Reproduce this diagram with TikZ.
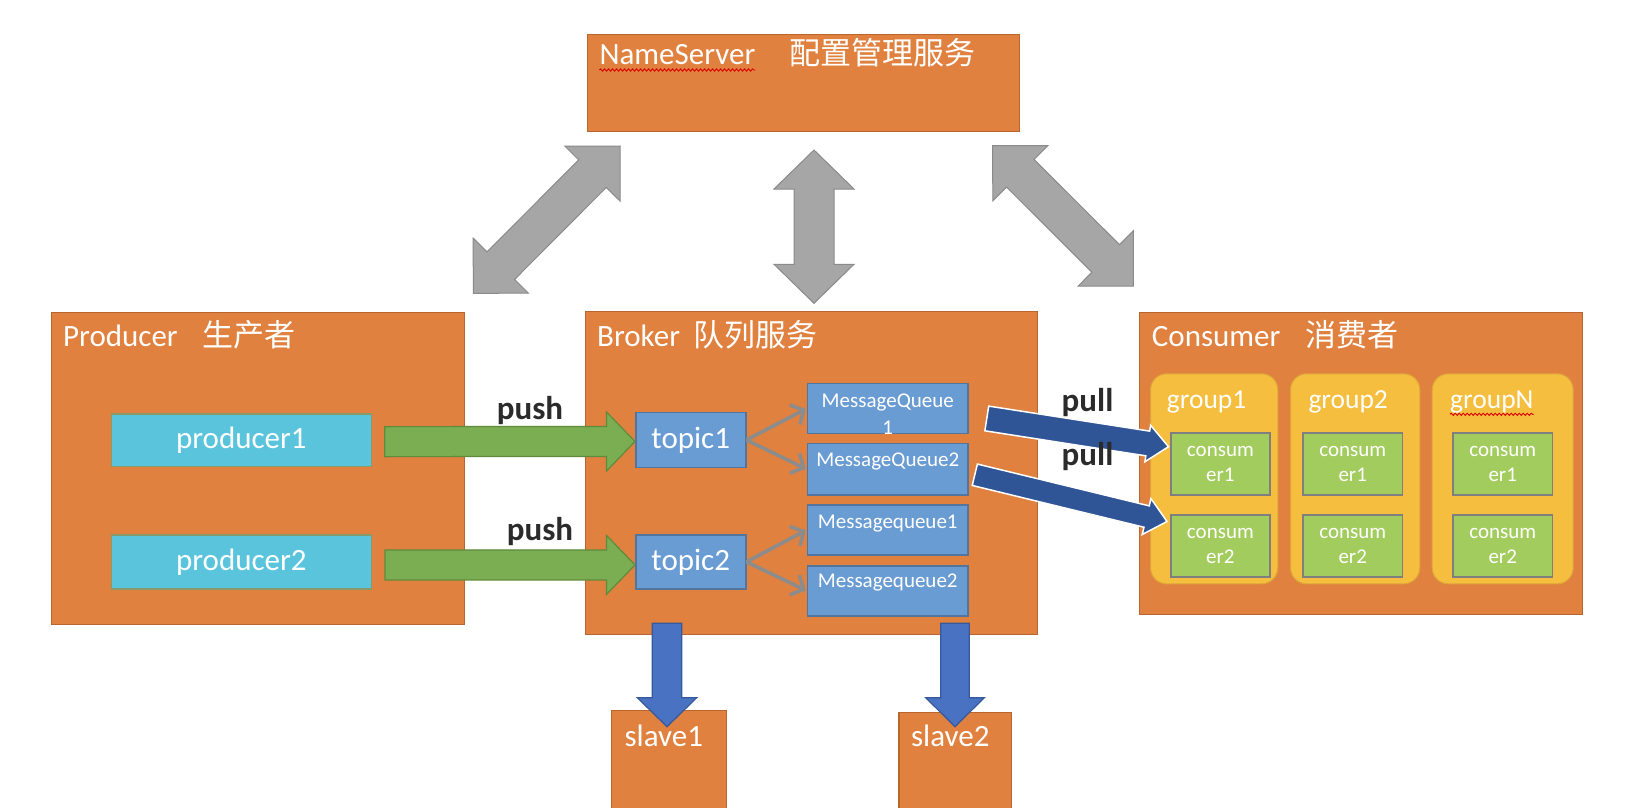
\documentclass[tikz,border=0pt]{standalone}
\usepackage{fontspec}
\setmainfont{Carlito}
\newfontfamily\cjk{Noto Sans CJK SC}
\usetikzlibrary{calc,arrows.meta,decorations.pathmorphing}
\definecolor{orangebox}{HTML}{E0813F}
\definecolor{orangeline}{HTML}{B8652E}
\definecolor{cyanbox}{HTML}{5BC4DD}
\definecolor{cyanline}{HTML}{869A6A}
\definecolor{bluebox}{HTML}{6A9CD4}
\definecolor{blueline}{HTML}{52759E}
\definecolor{yellowbox}{HTML}{F5BE3E}
\definecolor{yellowline}{HTML}{DDA53A}
\definecolor{greenbox}{HTML}{A3CC5E}
\definecolor{greenline}{HTML}{7F7F7F}
\definecolor{grayarrow}{HTML}{A6A6A6}
\definecolor{grayarrowline}{HTML}{8A8A8A}
\definecolor{greenarrow}{HTML}{7BAD52}
\definecolor{greenarrowline}{HTML}{5E8B3C}
\definecolor{pullblue}{HTML}{2F5597}
\definecolor{slaveblue}{HTML}{4A72C2}
\definecolor{slaveblueline}{HTML}{36599C}
\definecolor{linkgray}{HTML}{8C8C8C}
\definecolor{labeltext}{HTML}{2B2B2B}

% block arrow: style, tail, tip, shaft half width, head half width, head length
\newcommand{\blockarrow}[6]{%
  \coordinate (ba-h) at ($(#3)!#6!(#2)$);
  \path[#1] ($(#2)!#4!90:(#3)$) -- ($(ba-h)!#4!90:(#3)$) -- ($(ba-h)!#5!90:(#3)$) -- (#3)
    -- ($(ba-h)!#5!-90:(#3)$) -- ($(ba-h)!#4!-90:(#3)$) -- ($(#2)!#4!-90:(#3)$) -- cycle;
}
% double block arrow: style, end A, end B, shaft half width, head half width, head length
\newcommand{\dblarrow}[6]{%
  \coordinate (da-a) at ($(#2)!#6!(#3)$);
  \coordinate (da-b) at ($(#3)!#6!(#2)$);
  \path[#1] (#2) -- ($(da-a)!#5!90:(#3)$) -- ($(da-a)!#4!90:(#3)$) -- ($(da-b)!#4!-90:(#2)$)
    -- ($(da-b)!#5!-90:(#2)$) -- (#3) -- ($(da-b)!#5!90:(#2)$) -- ($(da-b)!#4!90:(#2)$)
    -- ($(da-a)!#4!-90:(#3)$) -- ($(da-a)!#5!-90:(#3)$) -- cycle;
}

\begin{document}
\begin{tikzpicture}[x=1pt,y=-1pt,
  bigbox/.style={draw=orangeline, fill=orangebox, line width=1.2pt, inner sep=0pt, anchor=north west},
  prodbox/.style={draw=cyanline, fill=cyanbox, line width=1.2pt, inner sep=0pt, anchor=north west,
    text=white, font=\fontsize{31}{37}\selectfont},
  topicbox/.style={draw=blueline, fill=bluebox, line width=1.5pt, inner sep=0pt, anchor=north west,
    text=white, font=\fontsize{31}{37}\selectfont},
  mqbox/.style={draw=blueline, fill=bluebox, line width=1.5pt, inner sep=0pt, anchor=north west,
    minimum width=160.6pt},
  mqtext/.style={text=white, font=\fontsize{21}{26}\selectfont, inner sep=0pt, anchor=base},
  groupbox/.style={draw=yellowline, fill=yellowbox, line width=1pt, rounded corners=16pt,
    inner sep=0pt, anchor=north west, minimum height=210pt},
  grouptext/.style={text=white, font=\fontsize{27.5}{33}\selectfont, inner sep=0pt, anchor=base west},
  consbox/.style={draw=greenline, fill=greenbox, line width=1.5pt, inner sep=0pt, anchor=north west,
    minimum width=99.3pt, minimum height=62pt, text=white, align=center,
    font=\fontsize{21}{25}\selectfont},
  titletext/.style={text=white, font=\fontsize{31}{37}\selectfont, inner sep=0pt, anchor=base west},
  cjktitle/.style={text=white, font=\fontsize{31}{37}\selectfont\cjk, inner sep=0pt, anchor=base west},
  slavetext/.style={text=white, font=\fontsize{31}{37}\selectfont, inner sep=0pt, anchor=base},
  boldlabel/.style={text=labeltext, font=\fontsize{33}{40}\selectfont\bfseries, inner sep=0pt, anchor=base},
  bigdouble/.style={fill=grayarrow, draw=grayarrowline, line width=1pt, line join=miter},
  pusharrow/.style={fill=greenarrow, draw=greenarrowline, line width=1.2pt},
  pullarrow/.style={fill=pullblue, draw=white, line width=1.5pt},
  slavearrow/.style={fill=slaveblue, draw=slaveblueline, line width=1.2pt},
  link/.style={draw=linkgray, line width=3.6pt, -{Straight Barb[length=10pt,width=22pt]}, shorten >=1pt},
  spell/.style={draw=red!85!black, line width=0.9pt, decorate,
    decoration={snake, amplitude=1.1pt, segment length=4pt}}
]
\useasboundingbox (0,0) rectangle (1626,808);
\clip (0,0) rectangle (1626,808);
\fill[white] (0,0) rectangle (1626,808);

% ---------- NameServer ----------
\node[bigbox, minimum width=432pt, minimum height=97pt] (ns) at (587,34) {};
\node[titletext] (nst) at (599.3,65) {NameServer};
\node[cjktitle] (nsc) at (789.3,65) {配置管理服务};
\draw[spell] ($(nst.base west)+(0,5)$) -- ($(nst.base east)+(0,5)$);

% ---------- big boxes ----------
\node[bigbox, minimum width=413pt, minimum height=312.5pt] (prod) at (50.5,311.5) {};
\node[titletext] (prodt) at (63,346.7) {Producer};
\node[cjktitle] (prodc) at (202,346.7) {生产者};

\node[bigbox, minimum width=452pt, minimum height=323pt] (broker) at (585,311) {};
\node[titletext] (brokert) at (597,346.7) {Broker};
\node[cjktitle] (brokerc) at (693,346.7) {队列服务};

\node[bigbox, minimum width=443.5pt, minimum height=302.5pt] (cons) at (1138.5,311.5) {};
\node[titletext] (const) at (1151.7,346.7) {Consumer};
\node[cjktitle] (consc) at (1305,346.7) {消费者};

% ---------- gray double arrows ----------
\coordinate (dl1) at (473.3,293.3);
\coordinate (dl2) at (620,146);
\coordinate (dm1) at (814,150);
\coordinate (dm2) at (814,303.3);
\coordinate (dr1) at (992.7,145.7);
\coordinate (dr2) at (1133.3,286);
\dblarrow{bigdouble}{dl1}{dl2}{19.5pt}{39pt}{39pt}
\dblarrow{bigdouble}{dm1}{dm2}{20pt}{40pt}{39pt}
\dblarrow{bigdouble}{dr1}{dr2}{19.5pt}{39pt}{39pt}

% ---------- producers ----------
\node[prodbox, minimum width=259.5pt, minimum height=52.5pt] (p1) at (111,413.3) {producer1};
\node[prodbox, minimum width=260pt, minimum height=54pt] (p2) at (110.8,534.3) {producer2};

% ---------- broker content ----------
\node[topicbox, minimum width=110pt, minimum height=55pt] (t1) at (635,411.7) {topic1};
\node[topicbox, minimum width=110pt, minimum height=54.3pt] (t2) at (635,534) {topic2};

\node[mqbox, minimum height=50pt] (mq1) at (806.7,382.7) {};
\node[mqbox, minimum height=51.6pt] (mq2) at (806.7,442.7) {};
\node[mqbox, minimum height=49.7pt] (mq3) at (806.7,504.3) {};
\node[mqbox, minimum height=50pt] (mq4) at (806.7,565) {};
\node[mqtext] (mq1t) at ($(mq1.north)+(0,25)$) {MessageQueue};
\node[mqtext] (mq1u) at ($(mq1.north)+(0,51.5)$) {1};
\node[mqtext] (mq2t) at ($(mq2.north)+(0,24)$) {MessageQueue2};
\node[mqtext] (mq3t) at ($(mq3.north)+(0,24)$) {Messagequeue1};
\node[mqtext] (mq4t) at ($(mq4.north)+(0,22.5)$) {Messagequeue2};

\draw[link] (t1.east) -- (mq1.west);
\draw[link] (t1.east) -- (mq2.west);
\draw[link] (t2.east) -- (mq3.west);
\draw[link] (t2.east) -- (mq4.west);

% ---------- push arrows ----------
\coordinate (push1s) at ($(p1.east)+(13,1.5)$);
\coordinate (push1e) at ($(t1.west)+(0,1.5)$);
\coordinate (push2s) at ($(p2.east)+(13,3)$);
\coordinate (push2e) at ($(t2.west)+(0,3)$);
\blockarrow{pusharrow}{push1s}{push1e}{15pt}{29.5pt}{28.5pt}
\blockarrow{pusharrow}{push2s}{push2e}{15pt}{29.5pt}{28.5pt}
\node[boldlabel] (push1) at (530,419.3) {push};
\node[boldlabel] (push2) at (540,540) {push};

% ---------- consumer groups ----------
\node[groupbox, minimum width=127.3pt] (g1) at (1150,373.3) {};
\node[groupbox, minimum width=129.3pt] (g2) at (1290,373.3) {};
\node[groupbox, minimum width=141pt] (gN) at (1431.7,373.3) {};
\node[grouptext] (g1t) at (1166.7,408.3) {group1};
\node[grouptext] (g2t) at (1308.3,408.3) {group2};
\node[grouptext] (gNt) at (1450,408.3) {groupN};
\draw[spell] ($(gNt.base west)+(0,6)$) -- ($(gNt.base east)+(0,6)$);

\node[consbox] (c11) at (1170,432.2) {consum\\er1};
\node[consbox] (c12) at (1170,514) {consum\\er2};
\node[consbox] (c21) at (1302.3,432.2) {consum\\er1};
\node[consbox] (c22) at (1302.3,514) {consum\\er2};
\node[consbox] (cN1) at (1452.3,432.2) {consum\\er1};
\node[consbox] (cN2) at (1452.3,514) {consum\\er2};

% ---------- pull arrows ----------
\coordinate (pull1s) at ($(mq1.east)+(18,10)$);
\coordinate (pull1e) at ($(c11.north west)+(-1.5,14.5)$);
\coordinate (pull2s) at ($(mq2.east)+(6,5.5)$);
\coordinate (pull2e) at ($(c12.north west)+(-3,7.5)$);
\blockarrow{pullarrow}{pull1s}{pull1e}{12.5pt}{18.5pt}{21pt}
\blockarrow{pullarrow}{pull2s}{pull2e}{11pt}{18.5pt}{21pt}
\node[boldlabel] (pull1) at (1087.5,411.7) {pull};
\node[boldlabel] (pull2) at (1087.5,465) {pull};

% ---------- slaves ----------
\node[bigbox, minimum width=115pt, minimum height=110pt] (s1) at (610.7,710) {};
\node[bigbox, minimum width=112.7pt, minimum height=110pt] (s2) at (898.3,711.7) {};
\node[slavetext] (s1t) at ($(s1.north)+(-5,36.7)$) {slave1};
\node[slavetext] (s2t) at ($(s2.north)+(-5,35)$) {slave2};

\coordinate (sa1s) at (667,623.3);
\coordinate (sa1e) at (667,726.7);
\coordinate (sa2s) at (955,623.3);
\coordinate (sa2e) at (955,726.7);
\blockarrow{slavearrow}{sa1s}{sa1e}{14.7pt}{29.7pt}{29pt}
\blockarrow{slavearrow}{sa2s}{sa2e}{14.3pt}{29.3pt}{29pt}
\end{tikzpicture}
\end{document}
